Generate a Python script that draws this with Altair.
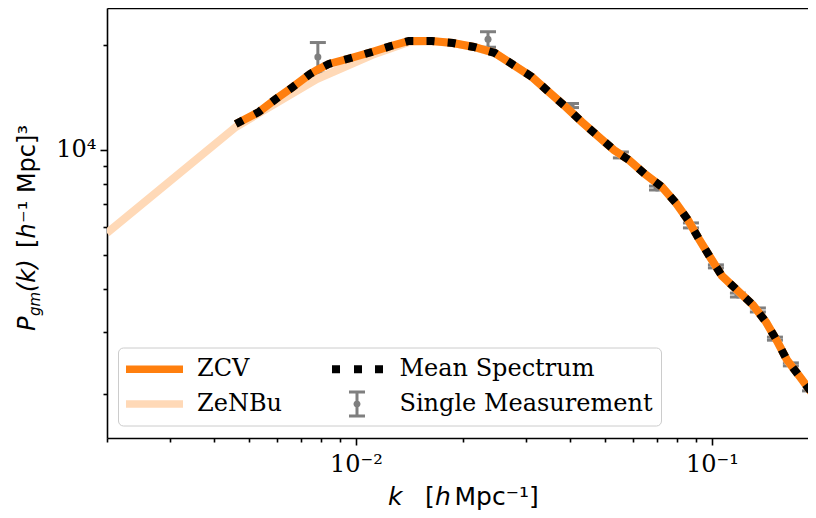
import altair as alt
import pandas as pd

# ---------------- data ----------------
zcv_k = [0.00460, 0.00534, 0.00596, 0.00665, 0.00743, 0.00777, 0.00840, 0.00968,
         0.01109, 0.01254, 0.01409, 0.01635, 0.01873, 0.02146, 0.02458, 0.02742,
         0.03122, 0.03484, 0.03890, 0.04312, 0.04815, 0.05306, 0.05845, 0.06481,
         0.07237, 0.07920, 0.08562, 0.09194, 0.09872, 0.1067, 0.1175, 0.1303,
         0.1418, 0.1523, 0.1624, 0.1767, 0.1909, 0.1972]
zcv_p = [11870, 12850, 14000, 15150, 16510, 16950, 17640, 18350,
         19090, 19860, 20530, 20530, 20260, 19730, 18960, 17640,
         16190, 14660, 13280, 12030, 10900, 10000, 9361, 8535,
         7834, 7049, 6302, 5559, 4937, 4355, 3972, 3597,
         3216, 2836, 2502, 2237, 2012, 1934]

mean_k = [0.00460, 0.00534, 0.00596, 0.00665, 0.00743, 0.00777, 0.00840, 0.00968,
          0.01109, 0.01254, 0.01409, 0.01635, 0.01873, 0.02146, 0.02458, 0.02742,
          0.03122, 0.03484, 0.03890, 0.04312, 0.04815, 0.05306, 0.05845, 0.06481,
          0.07237, 0.07920, 0.08562, 0.09194, 0.09872, 0.1067, 0.1175, 0.1303,
          0.1418, 0.1523, 0.1624, 0.1767, 0.1909, 0.1972]
mean_p = [11870, 12850, 14000, 15150, 16510, 16950, 17640, 18350,
          19090, 19860, 20530, 20530, 20260, 19730, 18960, 17640,
          16190, 14660, 13280, 12030, 10900, 10000, 9361, 8535,
          7834, 7049, 6302, 5559, 4937, 4355, 3972, 3597,
          3216, 2836, 2502, 2237, 2012, 1934]

zenbu_k = [0.00200, 0.00460, 0.00777, 0.01109, 0.01409, 0.01635, 0.01873, 0.02146,
           0.02458, 0.02742, 0.03122, 0.03484, 0.03890, 0.04312, 0.04815, 0.05306,
           0.05845, 0.06481, 0.07237, 0.07920, 0.08562, 0.09194, 0.09872, 0.1067,
           0.1175, 0.1303, 0.1418, 0.1523, 0.1624, 0.1767, 0.1909, 0.1972]
zenbu_p = [5783, 11640, 15970, 18720, 20390, 20500, 20240, 19720,
           18950, 17630, 16180, 14650, 13270, 12020, 10890, 9990,
           9355, 8530, 7830, 7045, 6300, 5556, 4935, 4353,
           3970, 3595, 3214, 2834, 2500, 2235, 2010, 1932]

meas_k = [0.00782, 0.0235, 0.0402, 0.0555, 0.0701, 0.0873, 0.1026, 0.1183,
          0.1346, 0.1503, 0.1666, 0.1885]
meas_p = [18470, 20760, 13410, 9680, 7780, 6080, 4640, 3840, 3480, 2880, 2430, 2080]
meas_err = [1850, 1060, 180, 190, 100, 100, 46, 50, 46, 29, 24, 40]

series_names = ["ZCV", "ZeNBu", "Mean Spectrum", "Single Measurement"]

x_ticks = [0.002, 0.003, 0.004, 0.005, 0.006, 0.007, 0.008, 0.009, 0.01,
           0.02, 0.03, 0.04, 0.05, 0.06, 0.07, 0.08, 0.09, 0.1]
y_ticks = [2000, 3000, 4000, 5000, 6000, 7000, 8000, 9000, 10000, 20000]

# ---------------- styling ----------------
ORANGE = "#ff7f0e"
PEACH = "#ffd9b7"
GRAY = "#7f7f7f"

x_axis = alt.Axis(
    values=x_ticks, orient="bottom",
    labelExpr="datum.value == 0.01 ? '10⁻²' : datum.value == 0.1 ? '10⁻¹' : ''",
    tickSize={"condition": {"test": "datum.value == 0.01 || datum.value == 0.1", "value": 7}, "value": 4},
    labelPadding=7, labelOverlap=False, labelFlush=False, title=None, grid=False,
)
top_axis = alt.Axis(
    orient="top", labels=False, ticks=False, domain=True, title=None, grid=False,
)
y_axis = alt.Axis(
    values=y_ticks,
    labelExpr="datum.value == 10000 ? '10⁴' : ''",
    tickSize={"condition": {"test": "datum.value == 10000", "value": 7}, "value": 4},
    labelPadding=4, labelOverlap=False, labelFlush=False, title=None, grid=False,
)
x_scale = alt.Scale(type="log", domain=[0.002, 0.1861], nice=False)
y_scale = alt.Scale(type="log", domain=[1495, 25520], nice=False)


def X(f, axis=None):
    return alt.X(f, type="quantitative", scale=x_scale, axis=axis)


def Y(f):
    return alt.Y(f, type="quantitative", scale=y_scale, axis=y_axis)


meas_df = pd.DataFrame({"k": meas_k, "p": meas_p, "e": meas_err})
meas_df["lo"] = meas_df["p"] - meas_df["e"]
meas_df["hi"] = meas_df["p"] + meas_df["e"]

err_rule = alt.Chart(meas_df).mark_rule(color=GRAY, strokeWidth=3).encode(
    x=X("k", x_axis), y=Y("lo"), y2="hi")
cap_lo = alt.Chart(meas_df).mark_tick(color=GRAY, orient="horizontal", size=16, thickness=3, opacity=1).encode(
    x=X("k"), y=Y("lo"))
cap_hi = alt.Chart(meas_df).mark_tick(color=GRAY, orient="horizontal", size=16, thickness=3, opacity=1).encode(
    x=X("k"), y=Y("hi"))
err_pt = alt.Chart(meas_df).mark_point(color=GRAY, filled=True, size=49, opacity=1, shape="circle").encode(
    x=X("k"), y=Y("p"))

zenbu = alt.Chart(pd.DataFrame({"k": zenbu_k, "p": zenbu_p})).mark_line(
    color=PEACH, strokeWidth=8, clip=True, strokeCap="butt").encode(x=X("k"), y=Y("p"))
zcv = alt.Chart(pd.DataFrame({"k": zcv_k, "p": zcv_p})).mark_line(
    color=ORANGE, strokeWidth=8, clip=True, strokeCap="butt").encode(x=X("k", top_axis), y=Y("p"))
mean = alt.Chart(pd.DataFrame({"k": mean_k, "p": mean_p})).mark_line(
    color="black", strokeWidth=8, strokeDash=[8, 13.2], clip=True, strokeCap="butt").encode(x=X("k"), y=Y("p"))

# legend: symbols drawn by the legend itself; the helper points sit off-canvas
line_path = "M-2.111,-0.278H2.111V0.278H-2.111Z"
dot_path = ("M-1.852,-0.296H-1.259V0.296H-1.852Z M-0.222,-0.296H0.370V0.296H-0.222Z "
            "M1.333,-0.296H1.926V0.296H1.333Z")
err_path = ("M-0.111,-0.889H0.111V0.889H-0.111Z M-0.593,-1.0H0.593V-0.778H-0.593Z "
            "M-0.593,0.778H0.593V1.0H-0.593Z M0.26,0A0.26,0.26 0 1 1 -0.26,0A0.26,0.26 0 1 1 0.26,0Z")
legend_df = pd.DataFrame({"series": series_names})
leg = alt.Legend(title=None, orient="none", legendX=11, legendY=339.5)
legend_layer = alt.Chart(legend_df).mark_point(filled=True, opacity=1, strokeWidth=0, size=729).encode(
    x=alt.value(-3000), y=alt.value(-3000),
    color=alt.Color("series:N", scale=alt.Scale(domain=series_names, range=[ORANGE, PEACH, "black", GRAY]), legend=leg),
    shape=alt.Shape("series:N", scale=alt.Scale(domain=series_names, range=[line_path, line_path, dot_path, err_path]), legend=leg),
)


def piece(text, x, y, size, style="normal", angle=0):
    return alt.Chart(alt.Data(values=[{}])).mark_text(
        text=text, font="DejaVu Sans", fontSize=size, fontStyle=style,
        align="left", baseline="alphabetic", angle=angle, color="black",
    ).encode(x=alt.value(x), y=alt.value(y))


# x-axis title: k  [h Mpc^-1]
xt = [
    piece("k", 281, 497, 25, "italic"),
    piece("[", 318, 497, 25),
    piece("h", 328, 497, 25, "italic"),
    piece("Mpc⁻¹]", 347.5, 497, 25),
]
# y-axis title: P_gm(k)  [h^-1 Mpc]^3
yt = [
    piece("P", -72, 323, 24, "italic", 270),
    piece("gm", -67, 308, 15, "italic", 270),
    piece("(k)", -72, 284, 24, "italic", 270),
    piece("[", -72, 240, 24, "normal", 270),
    piece("h", -72, 230.5, 24, "italic", 270),
    piece("⁻¹ Mpc]³", -72, 215, 24, "normal", 270),
]

chart = alt.layer(
    err_rule, cap_lo, cap_hi, err_pt, zenbu, zcv, mean, legend_layer, *xt, *yt
).resolve_axis(
    x="independent"
).properties(
    width=701, height=430,
    autosize=alt.AutoSizeParams(type="none"),
    padding={"left": 99, "top": 0, "right": 0, "bottom": 72},
).configure_view(
    strokeWidth=0,
).configure_axis(
    domainColor="black", domainWidth=1.6, tickColor="black", tickWidth=1.6,
    labelFont="DejaVu Serif", labelFontSize=24, labelColor="black",
).configure_legend(
    columns=2, columnPadding=46.5, rowPadding=9,
    padding=8, labelFont="DejaVu Serif", labelFontSize=24, labelColor="black",
    labelOffset=29, symbolOffset=15, labelLimit=400, symbolSize=729, symbolStrokeWidth=0,
    strokeColor="#cccccc", fillColor="rgba(255,255,255,0.8)", cornerRadius=5,
)

chart.save("out.html", embed_options={"renderer": "svg", "actions": False})
